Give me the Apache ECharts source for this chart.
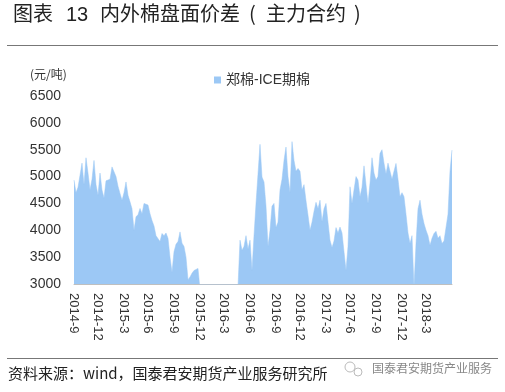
<!DOCTYPE html>
<html>
<head>
<meta charset="utf-8">
<script src="https://cdn.jsdelivr.net/npm/echarts@6/dist/echarts.min.js"></script>
<style>
html,body{margin:0;padding:0;background:#fff;}
#main{width:505px;height:392px;}
</style>
</head>
<body>
<div id="main"></div>
<script>
// Data, roughly weekly from 2014-09 to 2018-06
var seriesName = '郑棉-ICE期棉';
var yTicks = [3000, 3500, 4000, 4500, 5000, 5500, 6000, 6500];
var xTickLabels = ['2014-9','2014-12','2015-3','2015-6','2015-9','2015-12','2016-3','2016-6','2016-9','2016-12','2017-3','2017-6','2017-9','2017-12','2018-3'];
var startDate = '2014-09-08';
var endDate = '2018-06-05';
var spread = [
4934,4700,4800,4810,5250,4850,5350,5065,4750,4950,
5300,4850,4650,5065,4750,4600,4920,4900,4950,5180,
5200,5000,4820,4686,4560,4700,4900,4650,4530,4400,
4000,4250,4290,4406,4310,4500,4530,4470,4310,4180,
4080,3900,3900,3790,3940,3900,3950,3850,3500,3220,
3600,3740,3790,3970,3760,3700,3500,3080,3130,3200,
3250,3220,3290,2900,2900,2900,2900,2900,2900,2900,
2900,2900,2900,2900,2900,2900,2900,2900,2900,2900,
2900,2900,2950,3815,3630,3700,3900,3650,3815,3250,
3900,4500,5050,5600,4990,4900,4450,3700,4000,4450,
4500,4050,4150,4750,4950,5300,5550,5000,4700,5650,
5300,5100,5150,5100,4750,4850,4550,4280,4000,4150,
4350,4520,4400,4560,4160,4400,4500,4150,3815,3680,
3800,4050,3950,4060,3950,3600,3255,3700,4810,4500,
4750,5000,4934,4623,4800,5200,4850,4500,4878,5350,
5065,4934,5000,5432,5500,5250,5050,5250,5250,4950,
5100,5245,4950,4623,4700,4623,4300,3950,3753,3900,
2950,3753,4400,4560,4300,4126,4000,3900,3720,3850,
3940,3980,3850,3900,3753,3800,3800,4300,5100,5493
];

// build category dates evenly spanning start..end
var dates = [];
(function(){
  var s = Date.parse(startDate + 'T00:00:00Z'), e = Date.parse(endDate + 'T00:00:00Z');
  var n = spread.length;
  for (var i = 0; i < n; i++) {
    var t = s + Math.round((e - s) / 86400000 * i / (n - 1)) * 86400000;
    var d = new Date(t);
    dates.push(d.getUTCFullYear() + '-' + (d.getUTCMonth() + 1) + '-' + d.getUTCDate());
  }
})();
function ym(s){ var p = s.split('-'); return p[0] + '-' + p[1]; }
var labelIdx = {};
for (var i = 0; i < dates.length; i++) {
  var k = ym(dates[i]);
  if (xTickLabels.indexOf(k) >= 0 && (i === 0 || ym(dates[i-1]) !== k)) labelIdx[i] = k;
}

var FONT = '"Liberation Sans", "Noto Sans CJK SC", sans-serif';
var chart = echarts.init(document.getElementById('main'), null, {renderer: 'canvas'});
chart.setOption({
  animation: false,
  backgroundColor: '#fff',
  textStyle: {fontFamily: FONT},
  grid: {left: 74, right: 53, top: 96, bottom: 108},
  legend: {
    data: [seriesName],
    left: 209, top: 68,
    icon: 'rect', itemWidth: 7, itemHeight: 7, itemGap: 4,
    textStyle: {fontSize: 14, color: '#333', fontFamily: FONT}
  },
  xAxis: {
    type: 'category',
    data: dates,
    boundaryGap: false,
    axisLine: {show: true, lineStyle: {color: '#bfbfbf', width: 1}},
    axisTick: {show: false},
    splitLine: {show: false},
    axisLabel: {
      rotate: -90,
      margin: 9,
      fontSize: 13,
      color: '#333',
      fontFamily: FONT,
      interval: function(idx){ return labelIdx[idx] !== undefined; },
      formatter: function(v, idx){ return labelIdx[idx] || ''; }
    }
  },
  yAxis: {
    type: 'value',
    min: yTicks[0], max: yTicks[yTicks.length-1], interval: 500,
    axisLine: {show: false},
    axisTick: {show: false},
    splitLine: {show: false},
    axisLabel: {fontSize: 14, color: '#333', margin: 13, fontFamily: FONT,
      formatter: function(v){ return String(v); }}
  },
  series: [{
    name: seriesName,
    type: 'line',
    data: spread,
    showSymbol: false,
    symbol: 'none',
    clip: true,
    itemStyle: {color: '#9cc8f5'},
    lineStyle: {width: 0.5, color: '#9cc8f5'},
    areaStyle: {color: '#9cc8f5', opacity: 1, origin: 'start'}
  }],
  graphic: [
    {type: 'text', left: 13, top: 3, style: {text: '图表', font: '20px "Noto Sans CJK SC"', fill: '#222'}},
    {type: 'text', left: 66, top: 5, style: {text: '13', font: '20px "Liberation Sans"', fill: '#222'}},
    {type: 'text', left: 100, top: 3, style: {text: '内外棉盘面价差', font: '20px "Noto Sans CJK SC"', fill: '#222'}},
    {type: 'text', left: 249, top: 3, style: {text: '(', font: '20px "Noto Sans CJK SC"', fill: '#222'}},
    {type: 'text', left: 266, top: 3, style: {text: '主力合约', font: '20px "Noto Sans CJK SC"', fill: '#222'}},
    {type: 'text', left: 354, top: 3, style: {text: ')', font: '20px "Noto Sans CJK SC"', fill: '#222'}},
    {type: 'line', shape: {x1: 7, y1: 45.5, x2: 498, y2: 45.5}, style: {stroke: '#777', lineWidth: 1}},
    {type: 'text', left: 30, top: 68, style: {text: '(元/吨)', font: '12px "Noto Sans CJK SC"', fill: '#333'}},
    {type: 'line', shape: {x1: 7, y1: 358.5, x2: 498, y2: 358.5}, style: {stroke: '#777', lineWidth: 1}},
    {type: 'text', left: 8, top: 366, style: {text: '资料来源：wind，国泰君安期货产业服务研究所', font: '15px "Noto Sans CJK SC"', fill: '#222'}},
    {type: 'circle', shape: {cx: 350, cy: 367, r: 5}, style: {fill: 'none', stroke: '#bbb', lineWidth: 1}},
    {type: 'circle', shape: {cx: 358, cy: 372, r: 4}, style: {fill: 'none', stroke: '#bbb', lineWidth: 1}},
    {type: 'text', left: 372, top: 362, style: {text: '国泰君安期货产业服务', font: '12px "Noto Sans CJK SC"', fill: '#888'}}
  ]
});
</script>
</body>
</html>
